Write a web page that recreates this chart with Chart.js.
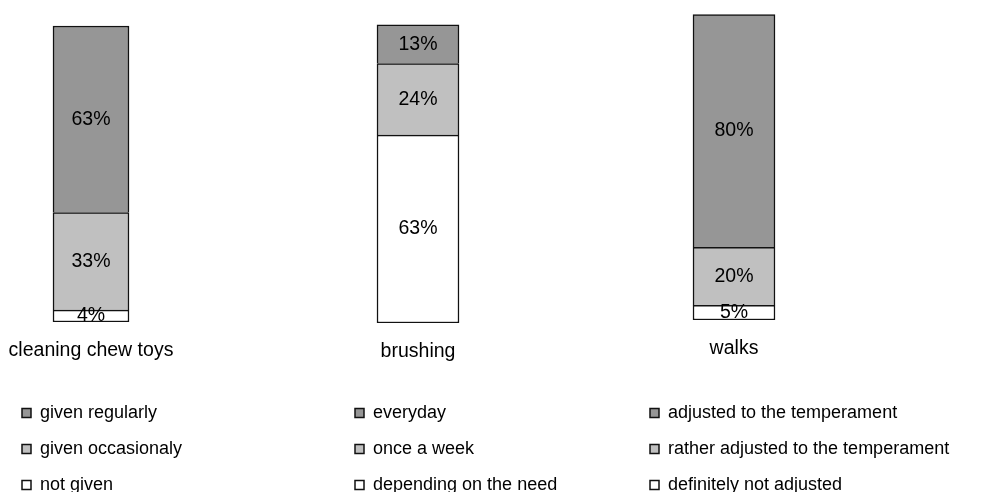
<!DOCTYPE html>
<html>
<head>
<meta charset="utf-8">
<script src="https://cdn.jsdelivr.net/npm/chart.js@4.4.1/dist/chart.umd.min.js"></script>
<style>
  html, body { margin: 0; padding: 0; background: #fff; overflow: hidden; width: 981px; height: 492px; }
  canvas { position: absolute; top: 0; }
</style>
</head>
<body>
<canvas id="toys" width="300" height="504" style="left:4px"></canvas>
<canvas id="brushing" width="240" height="504" style="left:337px"></canvas>
<canvas id="walks" width="349" height="504" style="left:632px"></canvas>
<script>
// Care practices: one stacked bar per activity, shares in %, top segment listed first
const categories = ['cleaning chew toys', 'brushing', 'walks'];

const toysAnswers = ['given regularly', 'given occasionaly', 'not given'];
const toysShares = [63, 33, 4];

const brushingAnswers = ['everyday', 'once a week', 'depending on the need'];
const brushingShares = [13, 24, 63];

const walksAnswers = ['adjusted to the temperament', 'rather adjusted to the temperament', 'definitely not adjusted'];
const walksShares = [80, 20, 5];

const FONT = "'Liberation Sans', Arial, Helvetica, sans-serif";
const fills = ['#969696', '#C0C0C0', '#FFFFFF']; // top, middle, bottom segment
const outline = '#111';

// writes each segment's share in the middle of its bar piece
const valueLabels = {
  id: 'valueLabels',
  afterDatasetsDraw(chart) {
    const ctx = chart.ctx;
    ctx.save();
    ctx.font = '19.5px ' + FONT;
    ctx.fillStyle = '#000';
    ctx.textAlign = 'center';
    ctx.textBaseline = 'middle';
    chart.data.datasets.forEach((ds, i) => {
      chart.getDatasetMeta(i).data.forEach((bar, j) => {
        const p = bar.getProps(['x', 'y', 'base'], true);
        ctx.fillText(ds.data[j] + '%', p.x, (p.y + p.base) / 2);
      });
    });
    ctx.restore();
  }
};

function drawPanel(id, category, answers, shares, opts) {
  // datasets run bottom-up so the stack starts from the last answer
  const datasets = answers.map((label, k) => ({
    label,
    data: [shares[k]],
    backgroundColor: fills[k],
    borderColor: outline,
    borderWidth: 1.5,
    borderSkipped: k === answers.length - 1 ? false : 'start'
  })).reverse();

  new Chart(document.getElementById(id), {
    type: 'bar',
    data: { labels: [category], datasets },
    options: {
      responsive: false,
      animation: false,
      layout: { padding: 0 },
      datasets: { bar: { barThickness: opts.barWidth } },
      scales: {
        x: {
          stacked: true,
          grid: { display: false, drawTicks: false },
          border: { display: false },
          ticks: {
            color: '#000',
            font: { family: FONT, size: 19.5 },
            padding: 17,
            maxRotation: 0,
            autoSkip: false
          },
          afterFit(s) { s.height = opts.axisHeight; s.paddingLeft = 0; s.paddingRight = 0; }
        },
        y: {
          stacked: true,
          min: 0,
          max: opts.max,
          position: 'right',
          grid: { display: false },
          border: { display: false },
          ticks: { display: false },
          afterFit(s) { s.width = opts.rightGap; s.paddingTop = 0; s.paddingBottom = 0; }
        }
      },
      plugins: {
        legend: {
          position: 'bottom',
          align: 'start',
          reverse: true,
          labels: {
            boxWidth: 9,
            boxHeight: 9,
            padding: 18,
            color: '#000',
            font: { family: FONT, size: 18 }
          }
        },
        tooltip: { enabled: false }
      }
    },
    plugins: [valueLabels]
  });
}

drawPanel('toys', categories[0], toysAnswers, toysShares,
  { barWidth: 76, axisHeight: 64, max: 108.8, rightGap: 126 });
drawPanel('brushing', categories[1], brushingAnswers, brushingShares,
  { barWidth: 82, axisHeight: 63, max: 108.3, rightGap: 78 });
drawPanel('walks', categories[2], walksAnswers, walksShares,
  { barWidth: 82, axisHeight: 66, max: 110, rightGap: 145 });
</script>
</body>
</html>
